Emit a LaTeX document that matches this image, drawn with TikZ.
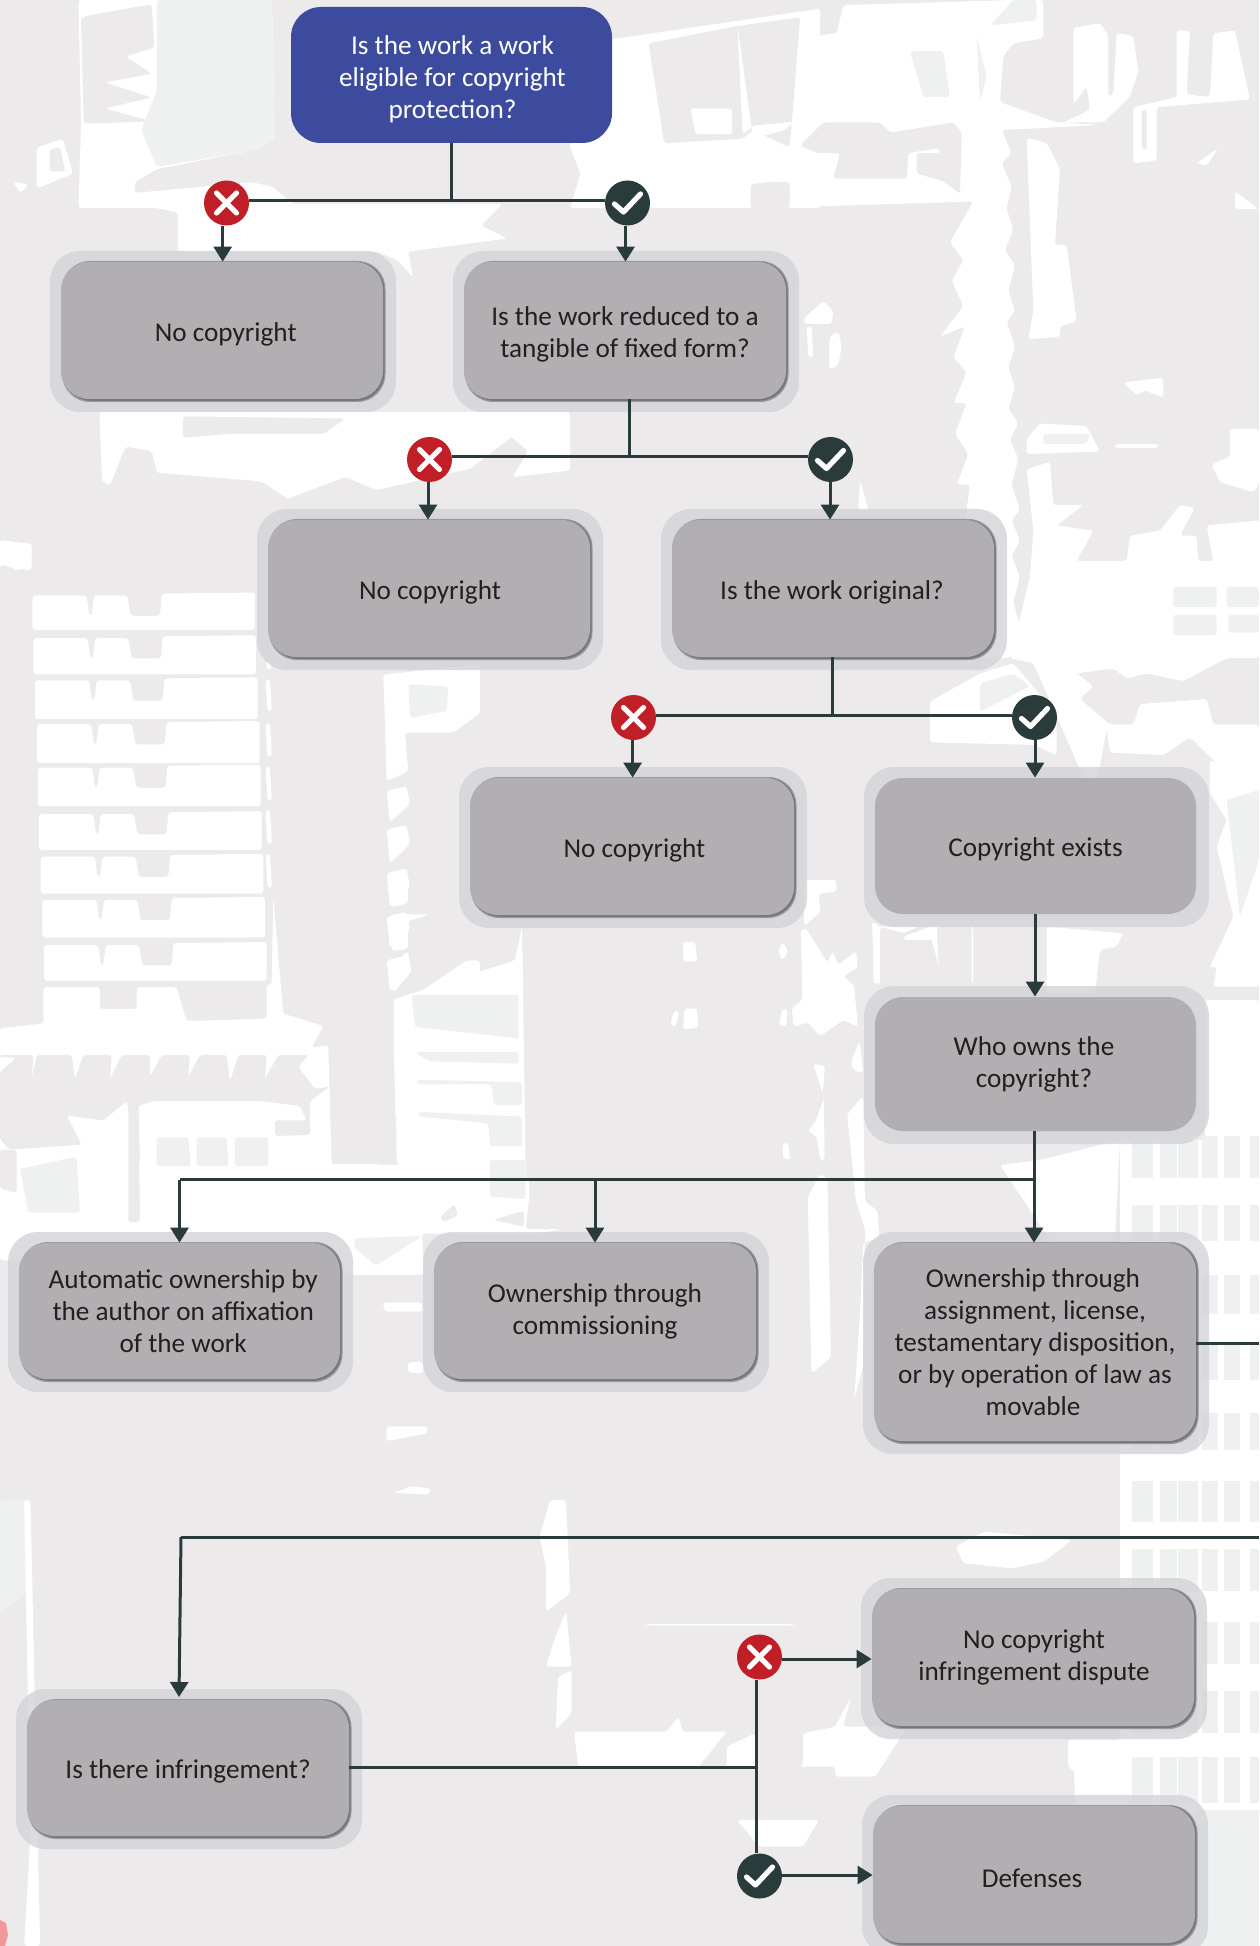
\documentclass[tikz,border=0pt]{standalone}
\usepackage{fontspec}
\setmainfont{Carlito}
\usetikzlibrary{arrows.meta}
\definecolor{bgc}{HTML}{ECEAEB}
\definecolor{pale}{HTML}{EFF1F0}
\definecolor{boxc}{HTML}{B1AFB2}
\definecolor{haloc}{HTML}{D3D3D9}
\definecolor{shad}{HTML}{77777B}
\definecolor{shadl}{HTML}{9A999C}
\definecolor{blueq}{HTML}{3C4B9E}
\definecolor{redb}{HTML}{C01F28}
\definecolor{darkb}{HTML}{2A3B3C}
\definecolor{txt}{HTML}{231F20}
\tikzset{
  qbox/.style={fill=boxc,rounded corners=14pt,inner sep=0pt,align=center,text=txt,font=\fontsize{13.6}{16}\selectfont,execute at begin node={\leavevmode\rule{0pt}{13pt}}},
  topbox/.style={qbox,fill=blueq,text=white,rounded corners=15pt},
  badge/.style={circle,inner sep=0pt,minimum size=22.5pt},
  nobadge/.style={badge,fill=redb},
  yesbadge/.style={badge,fill=darkb},
  ln/.style={draw=darkb,line width=1.5pt},
  arr/.style={ln,-{Triangle[width=9pt,length=7.5pt]}},
  mk/.style={draw=white,line width=2.6pt,line cap=round,line join=round},
  wh/.style={fill=white,rounded corners=1.5pt},
  pl/.style={fill=pale,rounded corners=1.5pt},
  gy/.style={fill=bgc,rounded corners=1.5pt}
}
\newcommand\qbf[6]{%
  \fill[haloc,opacity=.8,rounded corners=15pt] ({#2-11},{#3-11}) rectangle ({#4+13},{#5+13});
  \node[qbox,minimum width={(#4-#2)*0.5pt},minimum height={(#5-#3)*0.5pt}] (#1) at ({(#2+#4)/2},{(#3+#5)/2}) {#6};
}
\newcommand\qb[6]{%
  \fill[haloc,opacity=.8,rounded corners=15pt] ({#2-11},{#3-11}) rectangle ({#4+13},{#5+13});
  \fill[shadl,rounded corners=14pt] ({#2+1},{#3-1}) rectangle ({#4+2.5},{#5+3});
  \fill[shad,rounded corners=14pt] ({#2+2},{#3}) rectangle ({#4+1.5},{#5+1.8});
  \node[qbox,minimum width={(#4-#2)*0.5pt},minimum height={(#5-#3)*0.5pt}] (#1) at ({(#2+#4)/2},{(#3+#5)/2}) {#6};
}
\newcommand\nob[3]{\node[nobadge] (#1) at (#2,#3) {};
  \draw[mk] ([shift={(-10,-10)}]#1.center) -- ([shift={(10,10)}]#1.center);
  \draw[mk] ([shift={(-10,10)}]#1.center) -- ([shift={(10,-10)}]#1.center);}
\newcommand\yesb[3]{\node[yesbadge] (#1) at (#2,#3) {};
  \draw[mk] ([shift={(-13,1)}]#1.center) -- ([shift={(-4,9)}]#1.center) -- ([shift={(13,-9)}]#1.center);}
\begin{document}
\begin{tikzpicture}[x=0.5pt,y=-0.5pt]
\useasboundingbox (0,0) rectangle (1259,1946);
\fill[bgc] (0,0) rectangle (1259,1946);
% ---------- background texture: top left and centre
\begin{scope}[xscale=0.523,yscale=0.4337]
\fill[wh] (150,0)--(520,0)--(525,320)--(490,345)--(300,390)--(258,420)--(258,445)--(480,420)--(520,430)--(560,470)--(960,470)--(920,520)--(970,550)--(780,580)--(790,640)--(760,600)--(720,580)--(340,580)--(340,490)--(300,480)--(150,480)--(155,280)--cycle;
\fill[gy] (195,30)--(290,10)--(295,110)--(240,130)--(290,170)--(200,190)--(290,225)--(200,250)--(290,280)--(160,285)--(155,40)--cycle;
\fill[pl] (300,0)--(520,0)--(525,320)--(490,345)--(300,385)--(270,300)--(300,210)--cycle;
\fill[gy] (0,330)--(70,330)--(70,430)--(0,440)--cycle;
\fill[wh] (70,340)--(120,320)--(140,400)--(70,435)--cycle;
\fill[gy] (95,345)--(115,340)--(125,395)--(95,395)--cycle;
\fill[wh] (25,420)--(55,425)--(40,445)--cycle;
\fill[wh] (1090,340)--(1100,100)--(1170,90)--(1230,80)--(1568,20)--(1568,480)--(1090,480)--(1110,400)--cycle;
\fill[gy] (1240,100)--(1410,60)--(1530,40)--(1510,340)--(1440,300)--(1420,320)--(1270,330)--cycle;
\fill[wh] (1320,250)--(1400,250)--(1400,310)--(1330,310)--cycle;
\fill[wh] (1410,60)--(1420,310)--(1440,290)--(1520,280)--(1500,300)--(1440,320)--cycle;
\fill[gy] (1470,420)--(1510,420)--(1510,480)--(1435,480)--(1435,425)--cycle;
\fill[wh] (190,950)--(1090,950)--(1090,1085)--(980,1100)--(1010,1040)--(960,990)--(1040,950)--(900,1080)--(720,1130)--(660,1100)--(550,1150)--(500,1110)--(300,1090)--(290,1040)--(240,1030)--(210,1120)--(195,1110)--cycle;
\fill[gy] (350,960)--(660,965)--(620,1000)--(440,1000)--(350,1010)--cycle;
\fill[wh] (0,1245)--(60,1255)--(60,1315)--(25,1310)--(0,1300)--cycle;
\end{scope}
% ---------- upper right block
\begin{scope}[shift={(780,0)},xscale=0.3333,yscale=0.5102]
\fill[wh] (60,75)--(170,65)--(190,10)--(700,0)--(790,0)--(790,75)--(700,85)--(670,110)--(660,200)--(830,240)--(970,240)--(1050,190)--(1075,140)--(1060,70)--(1010,65)--(1000,185)--(985,190)--(985,70)--(960,45)--(880,55)--(880,205)--(920,170)--(930,215)--(850,240)--(960,245)--(665,255)--(695,300)--(665,320)--(695,365)--(680,410)--(700,450)--(675,490)--(705,520)--(685,570)--(705,610)--(680,630)--(705,680)--(685,720)--(705,760)--(685,800)--(715,830)--(690,860)--(715,900)--(695,950)--(720,1000)--(695,1020)--(720,1060)--(695,1090)--(720,1130)--(700,1180)--(720,1230)--(690,1290)--(500,1290)--(570,950)--(530,950)--(565,890)--(525,850)--(560,790)--(520,790)--(560,730)--(520,700)--(555,640)--(480,660)--(550,600)--(515,550)--(550,510)--(510,475)--(580,395)--(90,405)--(85,370)--(110,355)--(110,300)--(60,290)--cycle;
\fill[gy] (110,300)--(180,300)--(160,350)--(380,350)--(385,300)--(480,290)--(480,300)--(410,300)--(410,340)--(490,355)--(540,380)--(545,260)--(520,240)--(330,260)--(300,240)--(130,240)--(60,285)--cycle;
\fill[pl] (390,100)--(490,100)--(510,190)--(430,190)--cycle;
\fill[pl] (590,70)--(620,150)--(600,200)--cycle;
\fill[pl] (700,0)--(770,0)--(770,40)--(630,50)--cycle;
\fill[wh] (740,270)--(800,280)--(840,330)--(825,480)--(860,480)--(890,630)--(840,640)--(840,660)--(745,665)--(760,610)--cycle;
\fill[wh] (1060,210)--(1190,190)--(1190,60)--(1230,60)--(1220,185)--(1290,190)--(1300,65)--(1365,60)--(1410,195)--(1130,210)--(1130,315)--(1060,320)--cycle;
\fill[gy] (1085,215)--(1100,215)--(1100,295)--(1085,290)--cycle;
\fill[wh] (1250,320)--(1315,290)--(1280,325)--cycle;
\fill[wh] (1365,375)--(1437,410)--(1365,410)--cycle;
\fill[wh] (1030,750)--(1150,740)--(1150,780)--(1095,765)--(1070,775)--cycle;
\fill[wh] (740,860)--(780,830)--(920,835)--(960,885)--(740,890)--cycle;
\fill[pl] (790,850)--(930,850)--(920,870)--(790,870)--cycle;
\fill[wh] (1005,870)--(1135,870)--(1135,878)--(1005,878)--cycle;
\fill[wh] (1295,910)--(1350,895)--(1350,840)--(1437,840)--(1437,950)--(1420,965)--(1320,945)--cycle;
\fill[wh] (740,920)--(810,905)--(820,990)--(910,990)--(830,1030)--(940,1040)--(890,1100)--(1040,1100)--(1050,1050)--(1140,1040)--(1200,990)--(1245,995)--(1200,1050)--(1250,1050)--(1255,1100)--(1300,1100)--(1280,1030)--(1437,1020)--(1437,1290)--(1340,1290)--(1210,1335)--(1100,1320)--(1040,1330)--(1000,1310)--(890,1320)--(940,1345)--(900,1370)--(990,1420)--(1060,1420)--(1080,1380)--(1280,1370)--(1300,1420)--(1437,1420)--(1437,1568)--(1300,1490)--(1230,1445)--(1150,1480)--(990,1475)--(980,1430)--(940,1568)--(760,1300)--(690,1290)--(750,1130)--(760,1040)--cycle;
\fill[pl] (1180,1150)--(1310,1150)--(1310,1190)--(1180,1190)--cycle;
\fill[pl] (1180,1205)--(1310,1205)--(1310,1245)--(1180,1245)--cycle;
\fill[pl] (1340,1150)--(1437,1150)--(1437,1190)--(1340,1190)--cycle;
\fill[pl] (1345,1205)--(1437,1205)--(1437,1240)--(1345,1240)--cycle;
\fill[wh] (450,1375)--(600,1320)--(700,1300)--(830,1400)--(830,1480)--(760,1460)--(450,1455)--cycle;
\fill[pl] (600,1340)--(700,1320)--(750,1345)--(600,1395)--cycle;
\fill[wh] (240,940)--(265,1000)--(235,1000)--cycle;
\fill[wh] (70,625)--(130,590)--(160,610)--(155,635)--(75,635)--cycle;
\fill[wh] (80,640)--(95,640)--(100,700)--(85,700)--cycle;
\fill[wh] (148,660)--(175,650)--(185,680)--(175,715)--(148,725)--cycle;
\end{scope}
% ---------- grid at left
\begin{scope}[shift={(0,500)},xscale=0.3333,yscale=0.4847]
\foreach \yt/\yb/\off in {197/268/0,285/360/3,372/452/8,462/543/14,552/632/17,648/722/20,736/812/25,825/903/30,918/992/35}{
  \fill[wh] ({97+\off},\yt)--({260+\off},\yt)--({268+\off},{\yt+42})--({275+\off},{\yt+42})--({282+\off},\yt)--({382+\off},\yt)--({392+\off},{\yt+42})--({480+\off},{\yt+42})--({485+\off},\yt-4)--({765+\off},\yt-6)--({765+\off},\yb)--({97+\off},\yb)--cycle;}
\fill[wh] (0,85)--(95,90)--(95,140)--(40,145)--(25,125)--(0,140)--cycle;
\foreach \yt/\yb in {330/350,370/435,460/530,550/620,640/710,730/800}{\fill[wh] (797,\yt)--(810,\yt)--(816,\yb)--(802,\yb)--cycle;}
\fill[wh] (0,1090)--(130,1080)--(130,1005)--(300,1005)--(300,1050)--(410,1050)--(410,1005)--(530,1005)--(560,1075)--(800,1070)--(800,1000)--(815,1000)--(820,820)--(850,1060)--(970,1085)--(935,1130)--(985,1125)--(995,1370)--(1140,1370)--(1140,1568)--(0,1568)--cycle;
\fill[gy] (95,1195)--(110,1145)--(215,1145)--(225,1195)--(250,1145)--(335,1145)--(330,1195)--(365,1145)--(450,1145)--(450,1190)--(485,1145)--(570,1145)--(565,1190)--(600,1145)--(680,1145)--(690,1200)--(715,1145)--(800,1145)--(795,1195)--(835,1145)--(925,1145)--(895,1170)--(945,1215)--(990,1210)--(930,1240)--(930,1310)--(825,1312)--(825,1280)--(920,1280)--(900,1250)--(780,1240)--(460,1240)--(415,1250)--(420,1370)--(380,1240)--(310,1280)--(200,1270)--(245,1330)--(30,1340)--(0,1320)--(0,1180)--(50,1150)--(0,1150)--(0,1145)--(100,1145)--cycle;
\fill[pl] (470,1315)--(565,1315)--(572,1375)--(470,1375)--cycle;
\fill[pl] (590,1315)--(680,1315)--(685,1375)--(590,1375)--cycle;
\fill[pl] (705,1315)--(805,1315)--(805,1375)--(705,1375)--cycle;
\fill[pl] (60,1380)--(230,1355)--(240,1470)--(85,1470)--cycle;
\fill[gy] (385,1240)--(415,1240)--(420,1490)--(385,1490)--cycle;
\fill[gy] (0,1340)--(50,1340)--(50,1430)--(0,1420)--cycle;
\fill[wh] (1185,1050)--(1400,950)--(1440,950)--(1440,1370)--(1190,1370)--cycle;
\fill[wh] (1150,360)--(1440,340)--(1440,440)--(1360,480)--(1215,480)--(1225,560)--(1160,580)--(1155,460)--cycle;
\foreach \yt/\yb in {590/665,670/750,760/840,850/925,940/1015}{\fill[wh] (1160,{\yt+10})--(1220,\yt)--(1230,{(\yt+\yb)/2})--(1170,\yb)--cycle;}
\fill[pl] (1225,380)--(1345,385)--(1340,435)--(1230,450)--cycle;
\end{scope}
% ---------- band below the third row
\begin{scope}[shift={(340,880)},xscale=0.3571,yscale=0.4592]
\fill[wh] (140,0)--(190,0)--(190,50)--(145,60)--cycle;
\fill[wh] (145,75)--(250,75)--(190,90)--(190,150)--(145,155)--cycle;
\fill[wh] (140,190)--(190,155)--(200,200)--(150,245)--cycle;
\fill[wh] (150,260)--(490,175)--(510,100)--(520,650)--(1000,650)--(0,650)--(0,620)--(170,620)--(155,510)--(150,340)--cycle;
\fill[pl] (200,250)--(500,250)--(500,345)--(210,320)--cycle;
\fill[pl] (210,375)--(500,375)--(500,400)--(250,395)--cycle;
\fill[pl] (215,435)--(510,440)--(510,490)--(430,490)--(425,445)--(215,445)--cycle;
\fill[pl] (220,505)--(510,515)--(510,580)--(420,580)--(415,530)--(220,515)--cycle;
\fill[wh] (0,650)--(530,650)--(530,690)--(520,760)--(620,760)--(560,770)--(230,770)--(235,860)--(0,860)--cycle;
\fill[pl] (420,610)--(520,610)--(520,695)--(420,690)--cycle;
\fill[pl] (40,780)--(230,775)--(100,840)--(40,800)--cycle;
\fill[gy] (0,860)--(40,860)--(40,1000)--(0,1000)--cycle;
\fill[gy] (280,735)--(320,705)--(330,730)--(290,745)--cycle;
\fill[gy] (430,740)--(515,720)--(515,755)--cycle;
\fill[wh] (120,920)--(230,920)--(230,940)--(125,940)--cycle;
\fill[wh] (190,1050)--(232,1050)--(232,1075)--(190,1072)--cycle;
\fill[wh] (130,1190)--(245,1190)--(245,1205)--(130,1222)--cycle;
\fill[wh] (150,1335)--(200,1320)--(255,1325)--(250,1338)--cycle;
\fill[wh] (960,135)--(995,135)--(1000,178)--(962,178)--cycle;
\fill[wh] (925,315)--(935,285)--(950,285)--(940,320)--cycle;
\fill[wh] (965,280)--(1000,280)--(1003,322)--(960,325)--cycle;
\fill[wh] (1225,155)--(1240,135)--(1255,155)--(1240,175)--cycle;
\fill[wh] (1228,315)--(1240,280)--(1253,282)--(1250,320)--cycle;
\fill[wh] (1240,575)--(1255,570)--(1260,610)--(1240,605)--cycle;
\fill[wh] (1265,280)--(1295,260)--(1290,110)--(1305,105)--(1365,180)--(1380,155)--(1395,185)--(1445,155)--(1450,190)--(1410,210)--(1440,230)--(1450,320)--(1410,305)--(1345,340)--(1310,310)--(1270,320)--cycle;
\fill[wh] (1325,400)--(1358,405)--(1352,465)--cycle;
\fill[wh] (1330,530)--(1355,475)--(1357,610)--(1345,610)--(1335,560)--(1310,545)--cycle;
\fill[wh] (1310,690)--(1345,640)--(1365,650)--(1375,1040)--(1320,1075)--cycle;
\fill[wh] (1300,0)--(1390,0)--(1390,25)--(1340,30)--(1345,70)--(1300,100)--cycle;
\fill[wh] (1420,510)--(1465,470)--(1470,700)--(1505,720)--(1510,780)--(1465,790)--(1455,960)--(1440,1130)--(1465,1060)--(1470,760)--(1445,700)--cycle;
\fill[wh] (1490,90)--(1510,100)--(1530,225)--(1495,210)--cycle;
\fill[wh] (1430,400)--(1455,350)--(1465,420)--(1440,415)--cycle;
\end{scope}
% ---------- lower column
\begin{scope}[shift={(0,1500)},xscale=0.803,yscale=0.3333]
\fill[pl] (0,0)--(35,0)--(32,280)--(0,340)--cycle;
\fill[wh] (30,0)--(38,0)--(50,1338)--(30,1338)--(38,1000)--cycle;
\fill[wh] (685,0)--(705,0)--(710,280)--(680,335)--(680,200)--(672,110)--cycle;
\fill[wh] (705,335)--(712,500)--(680,500)--(690,420)--cycle;
\fill[wh] (695,530)--(712,510)--(712,640)--(692,690)--cycle;
\fill[wh] (715,695)--(830,695)--(845,650)--(850,695)--(905,695)--(870,800)--(905,800)--(905,740)--(940,700)--(940,800)--(1000,800)--(1000,700)--(1040,680)--(1060,590)--(1050,680)--(1130,680)--(1090,830)--(1040,830)--(1040,800)--(720,800)--cycle;
\fill[wh] (1190,140)--(1225,95)--(1335,120)--(1300,185)--(1260,205)--(1200,190)--cycle;
\fill[wh] (805,372)--(988,372)--(988,377)--(805,377)--cycle;
\fill[wh] (918,960)--(1020,960)--(1000,1040)--(945,1040)--cycle;
\fill[wh] (1330,720)--(1390,720)--(1400,880)--(1370,880)--(1330,800)--cycle;
\end{scope}
% ---------- white at right side, pale stripes
\fill[wh] (1120,1460)--(1259,1460)--(1259,1946)--(1080,1946)--(1073,1740)--(1120,1740)--cycle;
\fill[wh] (1205,1000)--(1259,1000)--(1259,1470)--(1120,1470)--(1120,1140)--(1205,1140)--cycle;
\fill[wh] (1000,1165)--(1040,1160)--(1120,1140)--(1115,1240)--(1050,1240)--cycle;
\begin{scope}[shift={(860,760)},xscale=0.3333,yscale=0.3333]
\fill[wh] (40,500)--(340,500)--(340,670)--(40,670)--cycle;
\fill[gy] (60,500)--(130,520)--(200,490)--(260,700)--(60,700)--cycle;
\fill[wh] (130,530)--(210,500)--(230,540)--(130,540)--cycle;
\fill[gy] (230,500)--(240,690)--(335,690)--(335,500)--cycle;
\fill[wh] (560,500)--(790,520)--(770,560)--(720,570)--(705,700)--(560,700)--cycle;
\fill[wh] (1050,0)--(1197,60)--(1197,280)--(1197,680)--(1060,680)--(1050,620)--(1120,470)--(1070,260)--(1100,180)--(1050,100)--cycle;
\fill[pl] (1100,120)--(1197,90)--(1197,300)--(1140,470)--cycle;
\fill[gy] (780,650)--(840,625)--(860,650)--(920,630)--(930,640)--(1000,630)--(1070,620)--(1060,680)--(770,680)--cycle;
\end{scope}
\foreach \yt/\yb in {1136/1178,1205/1241,1275/1314,1344/1380,1413/1450,1481/1522,1549/1591,1622/1664,1691/1733,1757/1803}{
  \foreach \xl/\xr in {1132/1153,1160/1177,1178/1198,1202/1218,1224/1240,1250/1259}{
    \fill[pale] (\xl,\yt) rectangle (\xr,\yb);}}
\fill[pale] (1195,1810)--(1259,1810)--(1259,1946)--(1180,1946)--cycle;
\fill[fill=red!35!bgc] (0,1920)--(6,1923)--(8,1935)--(5,1946)--(0,1946)--cycle;

% ---------- boxes
\node[topbox,minimum width=160.5pt,minimum height=68pt] (q1) at (451.5,75) {\rule{0pt}{13.5pt}\hspace*{1pt}Is the work a work\\\hspace*{1pt}eligible for copyright\\\hspace*{1pt}protection?};
\qb{n1}{61}{262}{383}{399}{\hspace*{3.7pt}No copyright}
\qb{q2}{464}{262}{786}{399}{\rule{0pt}{13.5pt}Is the work reduced to a\\tangible of fixed form?}
\qb{n2}{268}{520}{590}{657}{\hspace*{1pt}No copyright}
\qb{q3}{672}{520}{994}{657}{Is the work original?\hspace*{1pt}}
\qb{n3}{470}{778}{794}{915}{\hspace*{2.4pt}No copyright}
\qbf{e1}{875}{778}{1196}{914}{Copyright exists}
\qbf{q4}{875}{997}{1196}{1131}{Who owns the\hspace*{1.5pt}\\copyright?\hspace*{1.5pt}}
\qb{a1}{19}{1243}{340}{1379}{\hspace*{3.7pt}Automatic ownership by\\\hspace*{3.7pt}the author on affixation\\\hspace*{3.7pt}of the work}
\qb{a2}{434}{1243}{756}{1379}{Ownership through\\commissioning}
\qb{a3}{874}{1243}{1196}{1441}{Ownership through\hspace*{2pt}\\assignment, license,\hspace*{2pt}\\testamentary disposition,\hspace*{2pt}\\or by operation of law as\hspace*{2pt}\\movable\hspace*{2pt}}
\qb{q5}{27}{1700}{349}{1836}{Is there infringement?}
\qb{d1}{872}{1589}{1194}{1726}{\hspace*{1pt}No copyright\\\hspace*{1pt}infringement dispute}
\qb{d2}{873}{1806}{1195}{1943}{Defenses\hspace*{2pt}}
% ---------- badges
\nob{x1}{226.5}{203}
\yesb{y1}{627.5}{203}
\nob{x2}{429.5}{459.5}
\yesb{y2}{830.5}{459.5}
\nob{x3}{633.5}{717.5}
\yesb{y3}{1034.5}{717.5}
\nob{x4}{759.5}{1657}
\yesb{y4}{759.5}{1876}
% ---------- junctions
\coordinate (j1) at (451,201);
\coordinate (j2) at (629,457);
\coordinate (j3) at (832,715);
\coordinate (j4) at (1034,1179.5);
\coordinate (j5) at (756,1767);
\coordinate (l1) at (222.7,0);
\coordinate (l2) at (625.5,0);
\coordinate (l3) at (428,0);
\coordinate (l4) at (830,0);
\coordinate (l5) at (632.6,0);
\coordinate (l6) at (1035,0);
\coordinate (l7) at (179.5,0);
\coordinate (l8) at (595,0);
\coordinate (r1) at (1259,1343);
\coordinate (r2) at (1259,1537);
\coordinate (r3) at (181,1537);
\coordinate (r4) at (179,1697);
\coordinate (r5) at (0,1659);
\coordinate (r6) at (0,1875);
% ---------- connectors
\draw[ln] (j1 |- q1.south) -- (j1);
\draw[ln] (x1.east |- j1) -- (y1.west |- j1);
\draw[arr] (l1 |- x1.south) -- (l1 |- n1.north);
\draw[arr] (l2 |- y1.south) -- (l2 |- q2.north);
\draw[ln] (j2 |- q2.south) -- (j2);
\draw[ln] (x2.east |- j2) -- (y2.west |- j2);
\draw[arr] (l3 |- x2.south) -- (l3 |- n2.north);
\draw[arr] (l4 |- y2.south) -- (l4 |- q3.north);
\draw[ln] (j3 |- q3.south) -- (j3);
\draw[ln] (x3.east |- j3) -- (y3.west |- j3);
\draw[arr] (l5 |- x3.south) -- (l5 |- n3.north);
\draw[arr] (l6 |- y3.south) -- (l6 |- e1.north);
\draw[arr] (l6 |- e1.south) -- (l6 |- q4.north);
\draw[arr] (j4 |- q4.south) -- (j4 |- a3.north);
\draw[ln] (j4) -- (l7 |- j4);
\draw[arr] (l7 |- j4) -- (l7 |- a1.north);
\draw[arr] (l8 |- j4) -- (l8 |- a2.north);
\draw[ln] (a3.east |- r1) -- (r1);
\draw[ln] (r2) -- (r3);
\draw[arr] (r3) -- (r4);
\draw[ln] (q5.east |- j5) -- (j5);
\draw[ln] (j5 |- x4.south) -- (j5 |- y4.north);
\draw[arr] (x4.east |- r5) -- (d1.west |- r5);
\draw[arr] (y4.east |- r6) -- (d2.west |- r6);
\end{tikzpicture}
\end{document}
